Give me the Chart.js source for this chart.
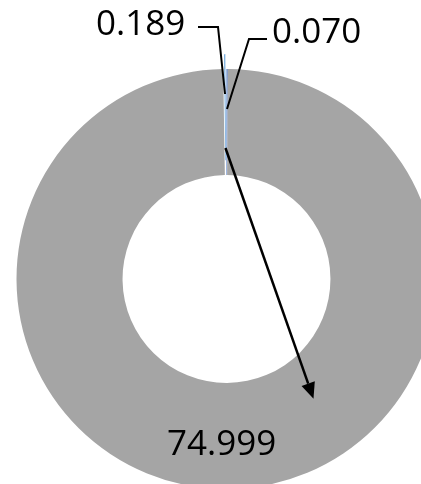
<!DOCTYPE html>
<html>
<head>
<meta charset="utf-8">
<script src="https://cdn.jsdelivr.net/npm/chart.js@4.4.1/dist/chart.umd.min.js"></script>
<style>
  html, body { margin: 0; padding: 0; background: #fff; }
  #wrap { width: 421px; height: 484px; }
</style>
</head>
<body>
<div id="wrap"><canvas id="donut"></canvas></div>
<script>
// slice order runs clockwise from 12 o'clock
const categories = ["A", "B", "C"]
const values = [0.070, 74.999, 0.189]
const colors = ["#4472C4", "#A5A5A5", "#5B9BD5"]
const explode = [0, 0, 30]

// where each value label sits (left edge, baseline) and its leader elbow
const labelSpots = [
  { x: 272, y: 43, elbow: [[267, 39], [249, 39]] },
  { x: 167, y: 455, elbow: null },
  { x: 96, y: 35, elbow: [[198, 27], [218, 27]] }
]

const callouts = {
  id: "callouts",
  afterDatasetsDraw(chart) {
    const ctx = chart.ctx
    const arcs = chart.getDatasetMeta(0).data
    const polar = (i, r) => {
      const a = arcs[i]
      const mid = (a.startAngle + a.endAngle) / 2
      const push = explode[i] / 2
      return [a.x + Math.cos(mid) * (r + push), a.y + Math.sin(mid) * (r + push)]
    }

    ctx.save()
    ctx.strokeStyle = "#000"
    ctx.fillStyle = "#000"
    ctx.lineWidth = 2

    // leader lines
    labelSpots.forEach((s, i) => {
      if (!s.elbow) return
      const end = polar(i, 170)
      ctx.beginPath()
      ctx.moveTo(s.elbow[0][0], s.elbow[0][1])
      ctx.lineTo(s.elbow[1][0], s.elbow[1][1])
      ctx.lineTo(end[0], end[1])
      ctx.stroke()
    })

    // arrow from the small slice out into the big ring
    const a = arcs[1]
    const from = polar(2, 116)
    const ang = (54 * Math.PI) / 180
    const to = [a.x + Math.cos(ang) * 148, a.y + Math.sin(ang) * 148]
    const dir = Math.atan2(to[1] - from[1], to[0] - from[0])
    const headLen = 16, headHalf = 7
    const base = [to[0] - Math.cos(dir) * headLen, to[1] - Math.sin(dir) * headLen]
    ctx.lineWidth = 2.5
    ctx.beginPath()
    ctx.moveTo(from[0], from[1])
    ctx.lineTo(base[0], base[1])
    ctx.stroke()
    ctx.beginPath()
    ctx.moveTo(to[0], to[1])
    ctx.lineTo(base[0] - Math.sin(dir) * headHalf, base[1] + Math.cos(dir) * headHalf)
    ctx.lineTo(base[0] + Math.sin(dir) * headHalf, base[1] - Math.cos(dir) * headHalf)
    ctx.closePath()
    ctx.fill()

    // value labels
    ctx.font = "35px 'Open Sans'"
    ctx.textAlign = "left"
    ctx.textBaseline = "alphabetic"
    values.forEach((v, i) => {
      ctx.fillText(v.toFixed(3), labelSpots[i].x, labelSpots[i].y)
    })
    ctx.restore()
  }
}

new Chart(document.getElementById("donut"), {
  type: "doughnut",
  data: {
    labels: categories,
    datasets: [{
      data: values,
      backgroundColor: colors,
      borderWidth: 0,
      offset: explode,
      clip: false
    }]
  },
  options: {
    responsive: true,
    maintainAspectRatio: false,
    animation: false,
    radius: 210,
    cutout: "49.5%",
    layout: { padding: { left: 32, top: 74, right: 0, bottom: 0 } },
    plugins: {
      legend: { display: false },
      tooltip: { enabled: false }
    }
  },
  plugins: [callouts]
})
</script>
</body>
</html>
